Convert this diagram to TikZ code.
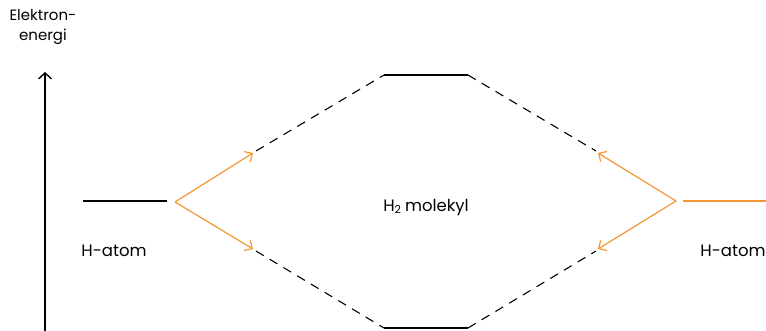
\documentclass[tikz,border=0pt]{standalone}
\usepackage{fontspec}
\setmainfont{Poppins}
\usetikzlibrary{arrows.meta}
\definecolor{spinorange}{RGB}{245,150,50}
\tikzset{
  level/.style={line width=1.4pt, black},
  mixline/.style={line width=1.1pt, black, dash pattern=on 9pt off 7pt},
  feed/.style={line width=1.2pt, spinorange, -{Straight Barb[length=6pt,width=12pt]}},
  lbl/.style={font=\fontsize{16.5}{19}\selectfont, inner sep=0pt},
  axislbl/.style={font=\fontsize{15}{20}\selectfont, inner sep=0pt, align=center},
}
\newcommand{\lowtwo}{\raisebox{-0.15ex}{\fontsize{11}{11}\selectfont 2}}
\begin{document}
\begin{tikzpicture}[x=1pt,y=-1pt]
\useasboundingbox (0,0) rectangle (766,331);
% energy axis
\coordinate (axlo) at (45,331);
\coordinate (axhi) at (45,72);
\draw[line width=1.4pt, -{Straight Barb[length=6pt,width=13pt]}] (axlo) -- (axhi);
\node[axislbl] (axlbl) at (43,27) {Elektron-\\energi};
% atomic levels
\coordinate (la) at (83,201);
\coordinate (lb) at (167,201);
\draw[level] (la) -- (lb);
\coordinate (ra) at (683,201);
\coordinate (rb) at (766,201);
\draw[level, spinorange] (ra) -- (rb);
% molecular levels
\coordinate (ta) at (384,75);
\coordinate (tb) at (468,75);
\draw[level] (ta) -- (tb);
\coordinate (ba) at (384,328);
\coordinate (bb) at (468,328);
\draw[level] (ba) -- (bb);
% correlation lines
\coordinate (lu) at (256,151);
\coordinate (ld) at (256,251);
\coordinate (ru) at (596,151);
\coordinate (rd) at (596,251);
\draw[mixline] (lu) -- (ta);
\draw[mixline] (ld) -- (ba);
\draw[mixline] (tb) -- (ru);
\draw[mixline] (bb) -- (rd);
% electron transfer arrows
\coordinate (ls) at (175,202);
\coordinate (rs) at (676,201);
\draw[feed] (ls) -- (253,153);
\draw[feed] (ls) -- (253,249);
\draw[feed] (rs) -- (598,153);
\draw[feed] (rs) -- (598,249);
% labels
\node[lbl] (hl) at (114,251) {H-atom};
\node[lbl] (hr) at (733,251) {H-atom};
\node[lbl] (mol) at (426,208) {H\lowtwo\hspace{4pt}molekyl};
\end{tikzpicture}
\end{document}
